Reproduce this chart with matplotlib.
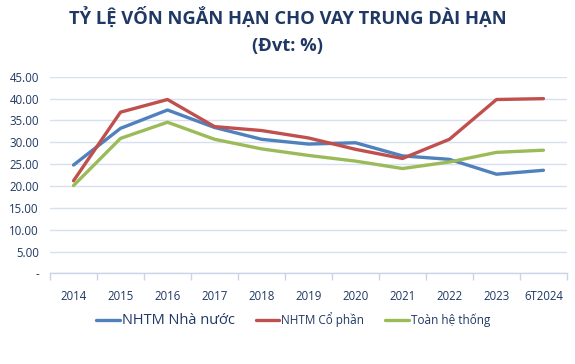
import numpy as np
import matplotlib
matplotlib.use('Agg')
import matplotlib.pyplot as plt

years = ['2014', '2015', '2016', '2017', '2018', '2019', '2020', '2021', '2022', '2023', '6T2024']
nha_nuoc = [24.8, 33.2, 37.4, 33.4, 30.7, 29.6, 29.9, 26.9, 26.1, 22.7, 23.6]
co_phan = [21.2, 36.9, 39.8, 33.6, 32.7, 31.0, 28.4, 26.3, 30.7, 39.8, 40.0]
toan_he = [20.1, 30.9, 34.6, 30.7, 28.5, 27.0, 25.7, 24.0, 25.5, 27.7, 28.2]
yticks = [0, 5, 10, 15, 20, 25, 30, 35, 40, 45]

plt.rcParams['font.family'] = ['Open Sans', 'DejaVu Sans']
text_color = '#1F3864'

fig = plt.figure(figsize=(5.75, 3.64), dpi=100)
ax = fig.add_axes([0.087, 0.249, 0.899, 0.540])

x = np.arange(len(years))
ax.plot(x, nha_nuoc, color='#4F81BD', lw=2.4, label='NHTM Nhà nước', solid_capstyle='round')
ax.plot(x, co_phan, color='#C0504D', lw=2.4, label='NHTM Cổ phần', solid_capstyle='round')
ax.plot(x, toan_he, color='#9BBB59', lw=2.4, label='Toàn hệ thống', solid_capstyle='round')

ax.set_xlim(-0.5, len(years) - 0.5)
ax.set_ylim(0, 45)
ax.set_yticks(yticks)
ax.set_yticklabels(['-' if v == 0 else '%.2f' % v for v in yticks], fontsize=8.3, color=text_color)
ax.set_xticks(x)
ax.set_xticklabels(years, fontsize=8.3, color=text_color)
ax.set_xticks(np.arange(-0.5, len(years)), minor=True)
ax.tick_params(axis='x', which='major', length=0, pad=12)
ax.tick_params(axis='x', which='minor', length=5, color='#C9D4E8', width=1)
ax.tick_params(axis='y', length=0, pad=8)

ax.grid(axis='y', color='#D6E0F0', lw=1)
ax.set_axisbelow(True)
for s in ['top', 'right', 'left']:
    ax.spines[s].set_visible(False)
ax.spines['bottom'].set_color('#C9D4E8')
ax.spines['bottom'].set_linewidth(1)

fig.text(0.5, 0.952, 'TỶ LỆ VỐN NGẮN HẠN CHO VAY TRUNG DÀI HẠN', ha='center', va='center',
         fontsize=13.2, fontweight='bold', color=text_color)
fig.text(0.5, 0.875, '(Đvt: %)', ha='center', va='center',
         fontsize=13.2, fontweight='bold', color=text_color)

leg = fig.legend(loc='center', bbox_to_anchor=(0.51, 0.12), ncol=3, frameon=False,
                 fontsize=8.5, handlelength=2.0, handletextpad=0.15, columnspacing=1.8)
for t in leg.get_texts():
    t.set_color(text_color)
leg.get_texts()[0].set_fontsize(10.5)

fig.savefig('out.png', dpi=100)
